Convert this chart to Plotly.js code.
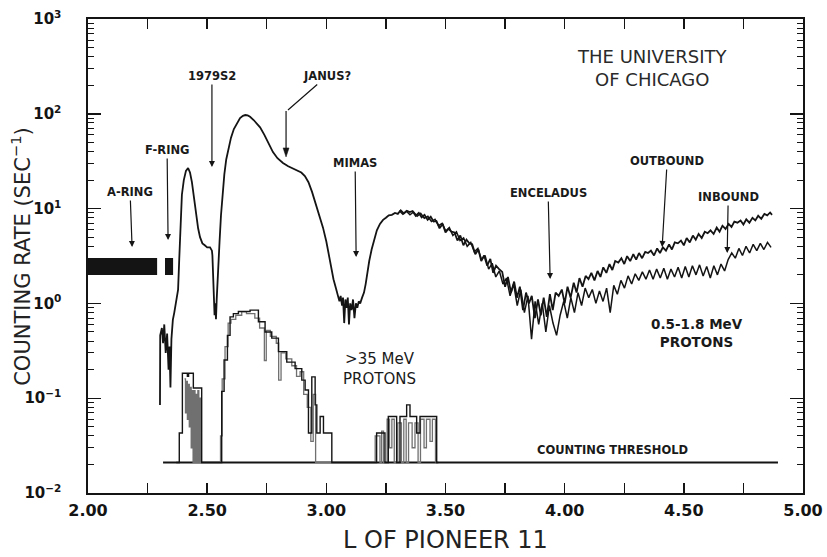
<!DOCTYPE html>
<html>
<head>
<meta charset="utf-8">
<script src="https://cdn.plot.ly/plotly-3.0.1.min.js"></script>
<style>
  html, body { margin: 0; padding: 0; background: #fff; }
  #chart { width: 827px; height: 557px; }
</style>
</head>
<body>
<div id="chart"></div>
<script>
// 0.5-1.8 MeV protons, outbound pass (L shell, counts per second)
const lowOutL = [
  2.302, 2.303, 2.310, 2.315, 2.320, 2.326, 2.332, 2.338, 2.342, 2.346,
  2.350, 2.356, 2.362, 2.370, 2.378, 2.383, 2.388, 2.394, 2.402, 2.411,
  2.420, 2.428, 2.436, 2.445, 2.453, 2.462, 2.470, 2.480, 2.490, 2.500,
  2.512, 2.520, 2.522, 2.525, 2.528, 2.531, 2.534, 2.537, 2.540, 2.544,
  2.548, 2.552, 2.558, 2.565, 2.572, 2.580, 2.590, 2.600, 2.612, 2.625,
  2.638, 2.650, 2.660, 2.670, 2.680, 2.695, 2.710, 2.722, 2.740, 2.760,
  2.776, 2.795, 2.818, 2.840, 2.860, 2.877, 2.895, 2.910, 2.925, 2.940,
  2.955, 2.970, 2.986, 3.000, 3.010, 3.020, 3.030, 3.040, 3.048, 3.055,
  3.060, 3.066, 3.070, 3.075, 3.080, 3.086, 3.090, 3.095, 3.100, 3.106,
  3.112, 3.118, 3.124, 3.130, 3.136, 3.142, 3.150, 3.158, 3.165, 3.172,
  3.180, 3.190, 3.200, 3.212, 3.225, 3.238, 3.250, 3.262, 3.275, 3.288,
  3.300, 3.312, 3.325, 3.338, 3.350, 3.362, 3.375, 3.388, 3.400, 3.412,
  3.425, 3.438, 3.450, 3.462, 3.475, 3.488, 3.500, 3.512, 3.525, 3.538,
  3.550, 3.562, 3.575, 3.588, 3.600, 3.612, 3.625, 3.638, 3.650, 3.662,
  3.675, 3.688, 3.700, 3.712, 3.725, 3.738, 3.750, 3.762, 3.775, 3.788,
  3.800, 3.812, 3.825, 3.838, 3.850, 3.862, 3.875, 3.888, 3.900, 3.912,
  3.925, 3.938, 3.950, 3.962, 3.975, 3.988, 4.000, 4.012, 4.025, 4.038,
  4.050, 4.062, 4.075, 4.088, 4.100, 4.112, 4.125, 4.138, 4.150, 4.162,
  4.175, 4.188, 4.200, 4.212, 4.225, 4.238, 4.250, 4.262, 4.275, 4.288,
  4.300, 4.312, 4.325, 4.338, 4.350, 4.362, 4.375, 4.388, 4.400, 4.412,
  4.425, 4.438, 4.450, 4.462, 4.475, 4.488, 4.500, 4.512, 4.525, 4.538,
  4.550, 4.562, 4.575, 4.588, 4.600, 4.612, 4.625, 4.638, 4.650, 4.662,
  4.675, 4.688, 4.700, 4.712, 4.725, 4.738, 4.750, 4.762, 4.775, 4.788,
  4.800, 4.812, 4.825, 4.838, 4.850, 4.862, 4.870
];
const lowOutRate = [
  0.085, 0.46, 0.55, 0.38, 0.60, 0.30, 0.48, 0.20, 0.35, 0.13,
  0.42, 0.67, 0.80, 1.05, 1.4, 3.0, 7.0, 14, 20, 25,
  26.8, 24, 19, 12.5, 8.5, 6.2, 5.0, 4.3, 4.1, 3.9,
  3.9, 3.6, 3.2, 1.8, 1.0, 0.75, 1.0, 0.68, 1.1, 1.6,
  2.6, 4.5, 8.5, 15, 23, 33, 45, 56, 69, 80,
  90, 95, 97, 96, 93, 86, 78, 72, 60, 47,
  39.5, 34, 30.3, 28, 26.5, 25.5, 24, 22, 19, 15,
  11.5, 8.5, 6.3, 4.5, 3.3, 2.4, 1.8, 1.45, 1.25, 1.05,
  1.2, 0.95, 1.15, 0.62, 1.1, 0.9, 1.15, 0.6, 1.0, 0.85,
  1.1, 0.7, 1.0, 0.9, 1.05, 1.0, 1.15, 1.3, 1.6, 2.1,
  2.8, 3.7, 4.7, 5.9, 6.9, 7.6, 8.0, 8.5, 8.6, 9.0,
  8.8, 9.6, 8.9, 9.5, 9.2, 9.4, 8.4, 9.0, 8.1, 8.6,
  7.6, 8.2, 7.3, 7.4, 6.2, 6.9, 5.6, 6.1, 5.7, 5.6,
  4.6, 5.2, 4.1, 4.7, 4.3, 4.2, 3.3, 3.7, 2.8, 3.2,
  2.5, 2.95, 2.1, 2.5, 2.3, 2.15, 1.5, 1.9, 1.3, 1.7,
  1.15, 1.5, 0.85, 1.3, 1.0, 1.2, 0.7, 1.1, 0.75, 1.15,
  0.72, 1.25, 0.85, 1.3, 1.2, 1.4, 1.0, 1.5, 1.15, 1.65,
  1.3, 1.85, 1.5, 1.95, 1.8, 2.1, 1.75, 2.2, 1.9, 2.4,
  2.1, 2.6, 2.25, 2.8, 2.7, 3.0, 2.6, 3.15, 2.8, 3.3,
  2.9, 3.4, 3.0, 3.5, 3.4, 3.6, 3.2, 3.8, 3.4, 3.9,
  3.6, 4.2, 3.7, 4.4, 4.3, 4.6, 4.1, 4.9, 4.4, 5.2,
  4.7, 5.4, 4.9, 5.7, 5.5, 5.9, 5.4, 6.3, 5.7, 6.6,
  6.1, 6.9, 6.4, 7.3, 7.1, 7.5, 6.8, 7.7, 7.1, 8.0,
  7.5, 8.4, 7.8, 8.8, 8.5, 9.1, 8.6
];

// 0.5-1.8 MeV protons, inbound pass
const lowInL = [
  3.306, 3.321, 3.336, 3.351, 3.366, 3.381, 3.396, 3.411, 3.426, 3.441,
  3.456, 3.471, 3.486, 3.501, 3.516, 3.531, 3.546, 3.561, 3.576, 3.591,
  3.606, 3.621, 3.636, 3.651, 3.666, 3.681, 3.696, 3.711, 3.726, 3.741,
  3.756, 3.771, 3.786, 3.801, 3.816, 3.831, 3.846, 3.861, 3.876, 3.891,
  3.906, 3.921, 3.936, 3.951, 3.966, 3.981, 3.996, 4.011, 4.026, 4.041,
  4.056, 4.071, 4.086, 4.101, 4.116, 4.131, 4.146, 4.161, 4.176, 4.191,
  4.206, 4.221, 4.236, 4.251, 4.266, 4.281, 4.296, 4.311, 4.326, 4.341,
  4.356, 4.371, 4.386, 4.401, 4.416, 4.431, 4.446, 4.461, 4.476, 4.491,
  4.506, 4.521, 4.536, 4.551, 4.566, 4.581, 4.596, 4.611, 4.626, 4.641,
  4.656, 4.671, 4.686, 4.701, 4.716, 4.731, 4.746, 4.761, 4.776, 4.791,
  4.806, 4.821, 4.836, 4.851, 4.866
];
const lowInRate = [
  9.5, 8.7, 9.4, 8.6, 9.2, 8.3, 8.9, 7.9, 8.3, 7.3,
  7.7, 6.6, 7.0, 5.8, 6.3, 5.2, 5.7, 4.6, 4.9, 4.0,
  4.4, 3.5, 3.8, 2.9, 3.2, 2.3, 2.65, 1.9, 2.2, 1.6,
  1.85, 1.2, 1.6, 0.95, 1.4, 0.8, 1.2, 0.42, 1.05, 0.6,
  1.0, 0.5, 0.95, 0.62, 0.46, 0.75, 1.05, 0.7, 1.15, 0.8,
  1.3, 0.95, 1.45, 1.15, 1.4, 1.0, 1.35, 1.05, 1.45, 0.8,
  1.55, 1.25, 1.75, 1.45, 1.95, 1.6, 2.05, 1.75, 2.15, 1.8,
  2.25, 1.8, 2.3, 1.85, 2.35, 1.8, 2.3, 1.9, 2.4, 1.85,
  2.45, 1.9, 2.5, 2.0, 2.55, 1.95, 2.45, 1.85, 2.5, 2.0,
  2.6, 2.2, 2.9, 3.4, 3.0, 3.8, 3.2, 4.0, 3.4, 4.2,
  3.6, 4.3, 3.7, 4.4, 3.9
];

// A-ring and F-ring saturated blocks
const ringBandL = [2.00, 2.29];
const ringBandRate = [2.45, 2.45];
const fBlockL = [2.323, 2.357];
const fBlockRate = [2.45, 2.45];

// >35 MeV protons, histogram bins (left edge, rate); zero bins sit on the threshold
const highOutL = [
  2.370, 2.383, 2.396, 2.417, 2.422, 2.442, 2.477, 2.561, 2.571, 2.585,
  2.596, 2.610, 2.631, 2.680, 2.715, 2.743, 2.771, 2.799, 2.834, 2.869,
  2.897, 2.911, 2.925, 2.939, 2.953, 2.960, 2.974, 2.988, 3.023, 3.211,
  3.246, 3.260, 3.295, 3.309, 3.337, 3.351, 3.379, 3.393, 3.463, 3.470
];
const highOutRate = [
  0.021, 0.043, 0.183, 0.17, 0.183, 0.128, 0.021, 0.118, 0.253, 0.46,
  0.72, 0.78, 0.82, 0.85, 0.64, 0.50, 0.43, 0.31, 0.24, 0.205,
  0.155, 0.122, 0.043, 0.168, 0.085, 0.043, 0.064, 0.043, 0.021, 0.043,
  0.021, 0.064, 0.021, 0.064, 0.085, 0.064, 0.043, 0.064, 0.021, 0.021
];
const highInL = [
  2.405, 2.409, 2.413, 2.417, 2.421, 2.425, 2.429, 2.433, 2.437, 2.441,
  2.445, 2.449, 2.453, 2.457, 2.461, 2.465, 2.469, 2.473,
  2.556, 2.563, 2.575, 2.588, 2.600, 2.620, 2.645, 2.665, 2.700, 2.720,
  2.740, 2.748, 2.765, 2.790, 2.800, 2.810, 2.830, 2.855, 2.875, 2.890,
  2.905, 2.920, 2.935, 2.945, 2.955,
  3.205, 3.225, 3.232, 3.240, 3.255, 3.265, 3.275, 3.285, 3.300, 3.315,
  3.325, 3.335, 3.345, 3.360, 3.372, 3.385, 3.395, 3.410, 3.420, 3.435,
  3.445, 3.458
];
const highInRate = [
  0.16, 0.07, 0.15, 0.06, 0.14, 0.05, 0.13, 0.03, 0.12, 0.021,
  0.12, 0.021, 0.11, 0.021, 0.12, 0.021, 0.10, 0.021,
  0.04, 0.16, 0.35, 0.62, 0.68, 0.75, 0.82, 0.78, 0.70, 0.55,
  0.25, 0.52, 0.45, 0.38, 0.155, 0.30, 0.26, 0.22, 0.17, 0.19,
  0.11, 0.08, 0.035, 0.11, 0.021,
  0.04, 0.021, 0.045, 0.021, 0.06, 0.03, 0.06, 0.021, 0.055, 0.021,
  0.06, 0.021, 0.055, 0.03, 0.055, 0.021, 0.06, 0.03, 0.06, 0.035,
  0.06, 0.021
];

// Counting threshold of the >35 MeV channel
const thresholdL = [2.315, 4.895];
const thresholdRate = [0.021, 0.021];

// Axis tick values
const decadeTicks = [0.01, 0.1, 1, 10, 100, 1000];
const decadeLabels = ['10<sup>\u22122</sup>', '10<sup>\u22121</sup>', '10<sup>0</sup>',
                      '10<sup>1</sup>', '10<sup>2</sup>', '10<sup>3</sup>'];

const INK = '#141414';
const FONT = 'DejaVu Sans, Liberation Sans, sans-serif';

// minor log ticks (2..9 in every decade) and quarter-unit L ticks
const minorLogTicks = [];
for (let d = -2; d < 3; d++) {
  for (let m = 2; m <= 9; m++) minorLogTicks.push(m * Math.pow(10, d));
}
const quarterTicks = [];
for (let i = 0; i <= 12; i++) quarterTicks.push(2 + i * 0.25);

const traces = [
  { x: ringBandL, y: ringBandRate, mode: 'lines', line: { color: INK, width: 17 } },
  { x: fBlockL, y: fBlockRate, mode: 'lines', line: { color: INK, width: 17 } },
  { x: thresholdL, y: thresholdRate, mode: 'lines', line: { color: INK, width: 2 } },
  { x: highInL, y: highInRate, mode: 'lines', line: { color: '#707070', width: 1.3, shape: 'hv' } },
  { x: highOutL, y: highOutRate, mode: 'lines', line: { color: INK, width: 1.4, shape: 'hv' } },
  { x: lowInL, y: lowInRate, mode: 'lines', line: { color: INK, width: 1.5 } },
  { x: lowOutL, y: lowOutRate, mode: 'lines', line: { color: INK, width: 1.8 } },
  // carries the tick-only overlay axes
  { x: [], y: [], mode: 'lines', xaxis: 'x2', yaxis: 'y2', hoverinfo: 'skip' }
];

const labelFont = { family: FONT, size: 11.5, color: '#1a1a1a', weight: 'bold' };

function arrowNote(text, x, y, ax, ay, head) {
  return {
    text: text, x: x, y: y, xref: 'x', yref: 'y', ax: ax, ay: ay,
    showarrow: true, arrowhead: head, arrowsize: 1, arrowwidth: 1.2,
    arrowcolor: INK, font: labelFont
  };
}

const annotations = [
  arrowNote('A-RING', 2.185, 0.595, -2, -55, 2),
  arrowNote('F-RING', 2.336, 0.669, -1, -90, 2),
  arrowNote('1979S2', 2.520, 1.439, 0, -91, 2),
  arrowNote('JANUS?', 2.839, 2.040, 39, -34, 0),
  arrowNote('MIMAS', 3.125, 0.489, -1, -94, 2),
  arrowNote('ENCELADUS', 3.939, 0.257, -2, -86, 2),
  arrowNote('OUTBOUND', 4.409, 0.595, 5, -86, 2),
  arrowNote('INBOUND', 4.682, 0.532, 1, -56, 2),
  { text: 'THE UNIVERSITY<br>OF CHICAGO', x: 4.367, y: 2.483, xref: 'x', yref: 'y',
    showarrow: false, font: { family: FONT, size: 18, color: '#2a2a2a' } },
  { text: '0.5-1.8 MeV<br>PROTONS', x: 4.556, y: -0.312, xref: 'x', yref: 'y',
    showarrow: false, font: { family: FONT, size: 13.5, color: '#1a1a1a', weight: 'bold' } },
  { text: '>35 MeV<br>PROTONS', x: 3.225, y: -0.692, xref: 'x', yref: 'y',
    showarrow: false, font: { family: FONT, size: 15, color: '#1a1a1a' } },
  { text: 'COUNTING THRESHOLD', x: 4.199, y: -1.546, xref: 'x', yref: 'y',
    showarrow: false, font: labelFont },
  // axis titles
  { text: 'COUNTING RATE (SEC<sup>\u22121</sup>)', textangle: -90, xref: 'paper', yref: 'paper',
    x: -0.094, y: 0.50, xanchor: 'center', yanchor: 'middle', showarrow: false,
    font: { family: FONT, size: 21, color: '#222' } },
  { text: 'L OF PIONEER 11', xref: 'paper', yref: 'paper',
    x: 0.50, y: -0.099, xanchor: 'center', yanchor: 'middle', showarrow: false,
    font: { family: FONT, size: 24, color: '#222' } }
];

// lower leg of the bent JANUS? pointer, with its arrowhead (paper y)
const shapes = [
  { type: 'line', xref: 'x', yref: 'paper', x0: 2.831, x1: 2.831, y0: 0.806, y1: 0.722,
    line: { color: INK, width: 1.2 } },
  { type: 'path', xref: 'x', yref: 'paper', path: 'M 2.8185,0.728 L 2.8435,0.728 L 2.831,0.709 Z',
    fillcolor: INK, line: { color: INK, width: 0.5 } }
];

const layout = {
  width: 827, height: 557,
  margin: { l: 88, r: 24, t: 19, b: 64 },
  paper_bgcolor: '#fff', plot_bgcolor: '#fff',
  showlegend: false,
  font: { family: FONT, color: INK },
  xaxis: {
    range: [2, 5], tick0: 2, dtick: 0.5, tickformat: '.2f',
    ticks: 'inside', ticklen: 10, tickwidth: 1.4, tickcolor: INK,
    showline: true, linecolor: INK, linewidth: 1.6, mirror: 'ticks',
    showgrid: false, zeroline: false, ticklabelstandoff: 2,
    tickfont: { family: FONT, size: 16, color: INK, weight: 'bold' }
  },
  xaxis2: {
    overlaying: 'x', anchor: 'y', range: [2, 5], tickmode: 'array', tickvals: quarterTicks,
    ticks: 'inside', ticklen: 10, tickwidth: 1.4, tickcolor: INK, mirror: 'ticks',
    showticklabels: false, showline: false, showgrid: false, zeroline: false
  },
  yaxis: {
    type: 'log', range: [-2, 3], tickmode: 'array', tickvals: decadeTicks, ticktext: decadeLabels,
    ticks: 'inside', ticklen: 13, tickwidth: 1.4, tickcolor: INK,
    showline: true, linecolor: INK, linewidth: 1.6, mirror: 'ticks',
    showgrid: false, zeroline: false,
    ticklabelstandoff: 22,
    tickfont: { family: FONT, size: 15, color: INK, weight: 'bold' }
  },
  yaxis2: {
    overlaying: 'y', anchor: 'x', type: 'log', range: [-2, 3], tickmode: 'array', tickvals: minorLogTicks,
    ticks: 'inside', ticklen: 6, tickwidth: 1, tickcolor: INK, mirror: 'ticks',
    showticklabels: false, showline: false, showgrid: false, zeroline: false
  },
  shapes: shapes,
  annotations: annotations
};

Plotly.newPlot('chart', traces, layout, { staticPlot: true, displayModeBar: false });
</script>
</body>
</html>
